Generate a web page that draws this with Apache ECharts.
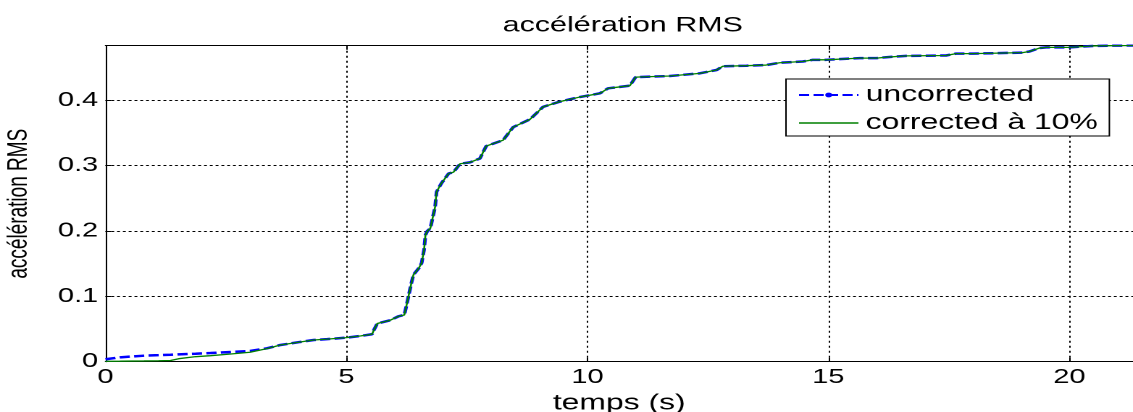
<!DOCTYPE html>
<html>
<head>
<meta charset="utf-8">
<script src="https://cdn.jsdelivr.net/npm/echarts@6/dist/echarts.min.js"></script>
<style>
  html, body { margin: 0; padding: 0; background: #fff; overflow: hidden; }
  /* the figure is laid out narrow and widened horizontally, like the exported plot */
  #chart { width: 782px; height: 412px; transform: scaleX(1.4488); transform-origin: 0 0; }
</style>
</head>
<body>
<div id="chart"></div>
<script>
// time axis (s)
const timeS = [0, 0.3, 0.8, 1.1, 1.35, 1.52, 1.87, 2.18, 2.6, 3.0, 3.35, 3.63, 4.04, 4.32, 4.6, 5.0,
  5.3, 5.53, 5.58, 5.64, 5.91, 6.08, 6.2, 6.24, 6.29, 6.34, 6.39, 6.5, 6.56, 6.61, 6.64, 6.68, 6.74,
  6.84, 6.87, 6.97, 7.12, 7.22, 7.36, 7.56, 7.77, 7.9, 8.25, 8.46, 8.81, 9.08, 9.43, 9.84, 10.26,
  10.43, 10.88, 11.0, 11.71, 12.33, 12.68, 12.81, 13.3, 13.71, 13.99, 14.47, 14.68, 14.96, 15.65,
  16.0, 16.2, 16.62, 17.44, 17.65, 18.0, 19.03, 19.17, 19.38, 19.52, 20.0, 20.48, 20.62, 21.32];

// cumulative RMS acceleration, raw record
const uncorrected = [0.0037, 0.0067, 0.0092, 0.0100, 0.0107, 0.0112, 0.0122, 0.0133, 0.0149, 0.0164,
  0.0205, 0.0256, 0.0302, 0.0332, 0.0345, 0.0368, 0.0395, 0.0420, 0.0500, 0.0585, 0.0635, 0.0695,
  0.0715, 0.0840, 0.1010, 0.1180, 0.1330, 0.1430, 0.1510, 0.1710, 0.1940, 0.2000, 0.2040, 0.2370,
  0.2600, 0.2730, 0.2880, 0.2900, 0.3030, 0.3050, 0.3110, 0.3300, 0.3390, 0.3590, 0.3710, 0.3900,
  0.3980, 0.4050, 0.4107, 0.4184, 0.4224, 0.4355, 0.4372, 0.4413, 0.4464, 0.4522, 0.4530, 0.4540,
  0.4575, 0.4594, 0.4620, 0.4620, 0.4646, 0.4646, 0.4660, 0.4680, 0.4686, 0.4715, 0.4715, 0.4730,
  0.4747, 0.4800, 0.4810, 0.4810, 0.4832, 0.4834, 0.4840];

// cumulative RMS acceleration, baseline-corrected record
const corrected = [0.0006, 0.0008, 0.0012, 0.0015, 0.0018, 0.0046, 0.0077, 0.0092, 0.0118, 0.0144,
  0.0200, 0.0256, 0.0302, 0.0332, 0.0345, 0.0368, 0.0395, 0.0420, 0.0500, 0.0585, 0.0635, 0.0695,
  0.0715, 0.0840, 0.1010, 0.1180, 0.1330, 0.1430, 0.1510, 0.1710, 0.1940, 0.2000, 0.2040, 0.2370,
  0.2600, 0.2730, 0.2880, 0.2900, 0.3030, 0.3050, 0.3110, 0.3300, 0.3390, 0.3590, 0.3710, 0.3900,
  0.3980, 0.4050, 0.4107, 0.4184, 0.4224, 0.4355, 0.4372, 0.4413, 0.4464, 0.4522, 0.4530, 0.4540,
  0.4575, 0.4594, 0.4620, 0.4620, 0.4646, 0.4646, 0.4660, 0.4680, 0.4686, 0.4715, 0.4715, 0.4730,
  0.4747, 0.4800, 0.4810, 0.4810, 0.4832, 0.4834, 0.4840];

const seriesNames = ['uncorrected', 'corrected à 10%'];
const titleText = 'accélération RMS';
const xLabel = 'temps (s)';
const yLabel = 'accélération RMS';

const FONT = '"Liberation Sans", Arial, Helvetica, sans-serif';
const pairs = (xs, ys) => xs.map((x, i) => [x, ys[i]]);

const chart = echarts.init(document.getElementById('chart'), null, { renderer: 'canvas', devicePixelRatio: 2 });

const axisLine = { show: true, onZero: false, lineStyle: { color: '#000', width: 1 } };
const tick = { show: true, inside: true, length: 4, lineStyle: { color: '#000' } };

chart.setOption({
  animation: false,
  backgroundColor: '#fff',
  title: {
    text: titleText,
    left: 342,
    top: 10,
    textStyle: { fontFamily: FONT, fontSize: 21, fontWeight: 'normal', color: '#000' }
  },
  grid: { left: 72.8, right: 0, top: 45.7, bottom: 50.3, outerBoundsMode: 'none', containLabel: false },
  legend: {
    orient: 'vertical',
    left: 542.5,
    top: 79,
    padding: [5, 8, 2, 8],
    itemGap: 6,
    itemWidth: 41,
    itemHeight: 6,
    backgroundColor: '#fff',
    borderColor: '#000',
    borderWidth: 1,
    borderRadius: 0,
    textStyle: { fontFamily: FONT, fontSize: 22, color: '#000' },
    data: [
      { name: seriesNames[0], lineStyle: { width: 2 } },
      { name: seriesNames[1], lineStyle: { width: 1.5 }, itemStyle: { opacity: 0 } }
    ]
  },
  xAxis: [
    {
      type: 'value', position: 'bottom', min: 0, max: 21.32, interval: 5,
      axisLine: axisLine, axisTick: tick,
      axisLabel: { fontFamily: FONT, fontSize: 20, color: '#000', margin: 6, showMaxLabel: false },
      splitLine: { show: true, lineStyle: { color: '#000', type: [2, 3], width: 1 } },
      name: xLabel, nameLocation: 'middle', nameGap: 30,
      nameTextStyle: { fontFamily: FONT, fontSize: 22, color: '#000' }
    },
    {
      type: 'value', position: 'top', min: 0, max: 21.32, interval: 5,
      axisLine: axisLine, axisTick: tick,
      axisLabel: { show: false }, splitLine: { show: false }
    }
  ],
  yAxis: {
    type: 'value', min: 0, max: 0.4836, interval: 0.1,
    axisLine: axisLine, axisTick: tick,
    axisLabel: { fontFamily: FONT, fontSize: 20, color: '#000', margin: 5, showMaxLabel: false, padding: [6, 0, 0, 0] },
    splitLine: { show: true, lineStyle: { color: '#000', type: [2, 2], width: 1 } },
    name: yLabel, nameLocation: 'middle', nameGap: 50,
    nameTextStyle: { fontFamily: FONT, fontSize: 19, color: '#000' }
  },
  series: [
    {
      name: seriesNames[0], type: 'line', xAxisIndex: 0,
      data: pairs(timeS, uncorrected),
      symbol: 'circle', symbolSize: 4, showSymbol: false,
      itemStyle: { color: '#0000ff' },
      lineStyle: { color: '#0000ff', width: 2.5, type: [7, 3] }
    },
    {
      name: seriesNames[1], type: 'line', xAxisIndex: 0,
      data: pairs(timeS, corrected),
      symbol: 'none',
      itemStyle: { color: '#008000' },
      lineStyle: { color: '#008000', width: 1.3 }
    }
  ]
});
</script>
</body>
</html>
